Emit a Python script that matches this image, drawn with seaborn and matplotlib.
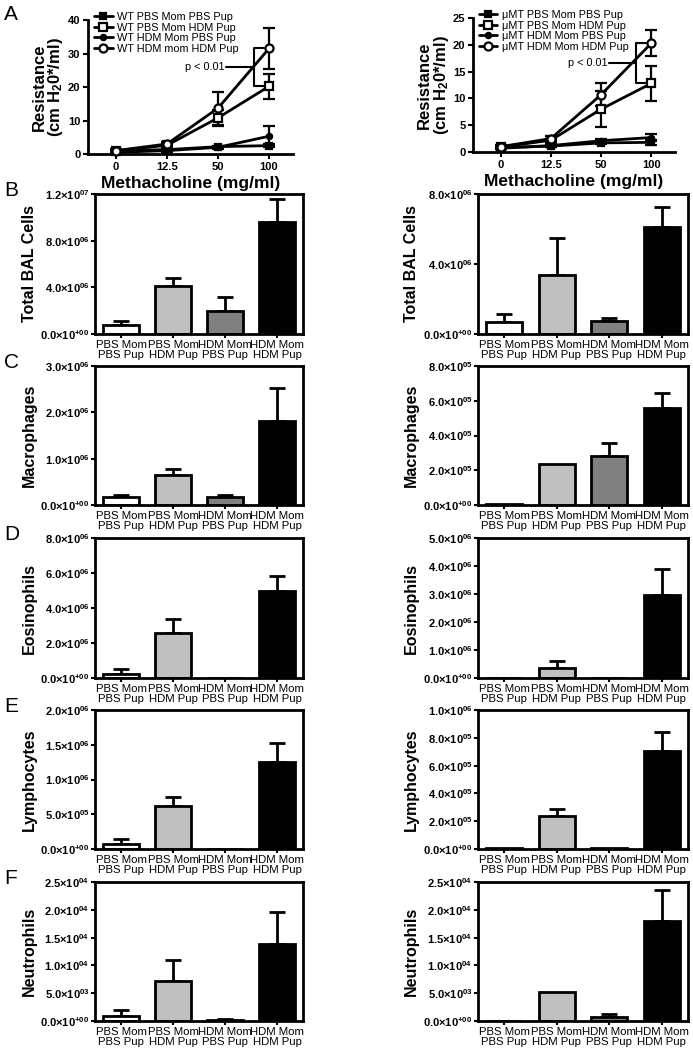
import numpy as np
import matplotlib
matplotlib.use("Agg")
import matplotlib.pyplot as plt
import seaborn as sns

# ── Style ──────────────────────────────────────────────────
sns.set_style("ticks", {"axes.edgecolor": "black", "xtick.color": "black",
                        "ytick.color": "black", "text.color": "black",
                        "axes.labelcolor": "black"})
plt.rcParams["font.family"] = ["Liberation Sans", "DejaVu Sans"]
plt.rcParams["mathtext.fontset"] = "custom"
plt.rcParams["mathtext.rm"] = "Liberation Sans:bold"
plt.rcParams["mathtext.it"] = "Liberation Sans:bold"
plt.rcParams["mathtext.bf"] = "Liberation Sans:bold"
plt.rcParams["mathtext.default"] = "rm"

# ── Données : résistance (méthacholine) ─────────────────────
doses = ["0", "12.5", "50", "100"]

wt_labels = ["WT PBS Mom PBS Pup", "WT PBS Mom HDM Pup",
             "WT HDM Mom PBS Pup", "WT HDM mom HDM Pup"]
wt_pbs_pbs = [1.0, 1.3, 2.2, 2.5]
wt_pbs_pbs_err = [0.3, 0.2, 0.3, 0.5]
wt_pbs_hdm = [1.0, 2.6, 10.8, 20.2]
wt_pbs_hdm_err = [0.3, 0.5, 2.3, 3.8]
wt_hdm_pbs = [0.5, 1.0, 2.0, 5.3]
wt_hdm_pbs_err = [0.2, 0.3, 0.4, 3.0]
wt_hdm_hdm = [1.0, 3.0, 13.7, 31.5]
wt_hdm_hdm_err = [0.5, 0.6, 4.9, 6.1]

mt_labels = ["\u03bcMT PBS Mom PBS Pup", "\u03bcMT PBS Mom HDM Pup",
             "\u03bcMT HDM Mom PBS Pup", "\u03bcMT HDM Mom HDM Pup"]
mt_pbs_pbs = [0.8, 1.1, 1.7, 1.8]
mt_pbs_pbs_err = [0.2, 0.2, 0.3, 0.5]
mt_pbs_hdm = [0.9, 2.2, 8.0, 12.8]
mt_pbs_hdm_err = [0.3, 0.3, 3.3, 3.3]
mt_hdm_pbs = [0.7, 1.2, 2.1, 2.7]
mt_hdm_pbs_err = [0.2, 0.2, 0.3, 0.7]
mt_hdm_hdm = [1.0, 2.5, 10.7, 20.3]
mt_hdm_hdm_err = [0.3, 0.4, 2.1, 2.4]

# ── Données : cellules BAL ──────────────────────────────────
cats = ["PBS Mom\nPBS Pup", "PBS Mom\nHDM Pup", "HDM Mom\nPBS Pup", "HDM Mom\nHDM Pup"]
bar_colors = ["white", "#c0c0c0", "#808080", "black"]

wt_bal = [7.7e5, 4.1e6, 2.0e6, 9.6e6]
wt_bal_err = [3.3e5, 6.7e5, 1.17e6, 2.0e6]
mt_bal = [6.6e5, 3.4e6, 7.2e5, 6.1e6]
mt_bal_err = [4.7e5, 2.08e6, 1.9e5, 1.15e6]

wt_mac = [1.8e5, 6.4e5, 1.7e5, 1.82e6]
wt_mac_err = [4e4, 1.4e5, 5e4, 7.1e5]
mt_mac = [8e3, 2.38e5, 2.82e5, 5.6e5]
mt_mac_err = [0, 0, 7.7e4, 8.6e4]

wt_eos = [2.5e5, 2.6e6, 0, 5.0e6]
wt_eos_err = [2.5e5, 7.5e5, 0, 8.4e5]
mt_eos = [0, 3.6e5, 0, 2.95e6]
mt_eos_err = [0, 2.4e5, 0, 9.3e5]

wt_lym = [7.2e4, 6.2e5, 0, 1.25e6]
wt_lym_err = [6.7e4, 1.35e5, 0, 2.7e5]
mt_lym = [7e3, 2.4e5, 7e3, 7.07e5]
mt_lym_err = [0, 4.5e4, 0, 1.32e5]

wt_neu = [900, 7.2e3, 200, 1.39e4]
wt_neu_err = [1.0e3, 3.8e3, 100, 5.7e3]
mt_neu = [0, 5.24e3, 714, 1.8e4]
mt_neu_err = [0, 0, 480, 5.5e3]

# ── Figure ─────────────────────────────────────────────────
W, H = 693, 1050
fig = plt.figure(figsize=(W / 100, H / 100), dpi=100)


def rect(l, t, r, b):
    return [l / W, 1 - b / H, (r - l) / W, (b - t) / H]


def sci(v, pos=None):
    if v == 0:
        return "0.0\u00d710$^{+00}$"
    e = int(np.floor(np.log10(v) + 1e-9))
    return f"{v / 10 ** e:.1f}\u00d710$^{{{e:02d}}}$"


def line_panel(ax, labels, series, errs, ymax, ystep):
    x = np.arange(len(doses))
    styles = [("s", "black", 4.5), ("s", "white", 5.5),
              ("o", "black", 3.8), ("o", "white", 5.8)]
    for lab, y, (mk, fc, ms) in zip(labels, series, styles):
        sns.lineplot(x=x, y=y, ax=ax, color="black", linewidth=2, marker=mk,
                     markersize=ms, markerfacecolor=fc, markeredgecolor="black",
                     markeredgewidth=1.6, label=lab, clip_on=False, zorder=3)
    for y, e in zip(series, errs):
        ax.errorbar(x, y, yerr=e, fmt="none", ecolor="black", elinewidth=1.6,
                    capsize=4.5, capthick=1.6, clip_on=False, zorder=2)
    ax.set_ylim(0, ymax)
    ax.set_yticks(np.arange(0, ymax + 0.1, ystep))
    ax.set_xlim(-0.55, 3.47)
    ax.set_xticks(x)
    ax.set_xticklabels(doses)
    sns.despine(ax=ax)
    for s in ["left", "bottom"]:
        ax.spines[s].set_linewidth(2)
    ax.tick_params(width=1.5, length=3.5, labelsize=8, pad=2)
    for t in ax.get_xticklabels() + ax.get_yticklabels():
        t.set_fontweight("bold")
    ax.set_ylabel("Resistance\n(cm H$_2$0*/ml)", fontsize=12, fontweight="bold",
                  linespacing=1.0)
    ax.yaxis.set_label_coords(-0.11, 0.5)
    ax.set_xlabel("Methacholine (mg/ml)", fontsize=12.5, fontweight="bold", labelpad=3)
    ax.legend(loc="upper left", bbox_to_anchor=(0.03, 1.06), frameon=False,
              fontsize=7.8, handlelength=1.7, handletextpad=0.45,
              labelspacing=0.05, borderaxespad=0, borderpad=0)
    # crochet de significativité
    top, bot = series[3][3], series[1][3]
    xb = 3 - 0.3
    ax.plot([xb + 0.2, xb, xb, xb + 0.2], [top, top, bot, bot],
            color="black", lw=1.5, zorder=1)
    ymid = (top + bot) / 2
    ax.plot([xb - 0.55, xb], [ymid, ymid], color="black", lw=1.5)
    ax.text(xb - 0.57, ymid, "p < 0.01", fontsize=7.8, ha="right", va="center")


def bar_panel(ax, vals, errs, ymax, ystep, ylabel):
    sns.barplot(x=cats, y=vals, hue=cats, palette=bar_colors, legend=False,
                edgecolor="black", linewidth=2, width=0.68, saturation=1, ax=ax,
                zorder=2)
    x = np.arange(len(cats))
    vals_a, errs_a = np.array(vals), np.array(errs)
    m = errs_a > 0
    ax.errorbar(x[m], vals_a[m], yerr=[np.zeros(m.sum()), errs_a[m]], fmt="none",
                ecolor="black", elinewidth=2, capsize=6, capthick=2, zorder=1)
    ax.set_ylim(0, ymax)
    ax.set_xlim(-0.5, 3.5)
    ax.set_yticks(np.arange(0, ymax * 1.0001, ystep))
    ax.yaxis.set_major_formatter(plt.FuncFormatter(sci))
    for s in ax.spines.values():
        s.set_linewidth(2)
    ax.tick_params(axis="y", width=1.5, length=3, labelsize=8, pad=1)
    ax.tick_params(axis="x", width=1.5, length=3, labelsize=8.2, pad=1)
    for t in ax.get_yticklabels():
        t.set_fontweight("bold")
    for t in ax.get_xticklabels():
        t.set_linespacing(1.0)
    ax.set_xlabel("")
    ax.set_ylabel(ylabel, fontsize=11.5, fontweight="bold")
    ax.yaxis.set_label_coords(-0.28, 0.5)


# ── Panneau A ──────────────────────────────────────────────
axA1 = fig.add_axes(rect(88, 20, 293, 154))
line_panel(axA1, wt_labels, [wt_pbs_pbs, wt_pbs_hdm, wt_hdm_pbs, wt_hdm_hdm],
           [wt_pbs_pbs_err, wt_pbs_hdm_err, wt_hdm_pbs_err, wt_hdm_hdm_err], 40, 10)
axA2 = fig.add_axes(rect(473, 18, 675, 152))
line_panel(axA2, mt_labels, [mt_pbs_pbs, mt_pbs_hdm, mt_hdm_pbs, mt_hdm_hdm],
           [mt_pbs_pbs_err, mt_pbs_hdm_err, mt_hdm_pbs_err, mt_hdm_hdm_err], 25, 5)

# ── Panneaux B-F ───────────────────────────────────────────
rows = [
    ("B", 194, 334, "Total BAL Cells", (wt_bal, wt_bal_err, 1.2e7, 4e6), (mt_bal, mt_bal_err, 8e6, 4e6)),
    ("C", 366, 505, "Macrophages", (wt_mac, wt_mac_err, 3e6, 1e6), (mt_mac, mt_mac_err, 8e5, 2e5)),
    ("D", 538, 678, "Eosinophils", (wt_eos, wt_eos_err, 8e6, 2e6), (mt_eos, mt_eos_err, 5e6, 1e6)),
    ("E", 710, 849, "Lymphocytes", (wt_lym, wt_lym_err, 2e6, 5e5), (mt_lym, mt_lym_err, 1e6, 2e5)),
    ("F", 882, 1021, "Neutrophils", (wt_neu, wt_neu_err, 2.5e4, 5e3), (mt_neu, mt_neu_err, 2.5e4, 5e3)),
]
for letter, top, bot, lab, left, right in rows:
    axl = fig.add_axes(rect(95, top, 303, bot))
    bar_panel(axl, *left, lab)
    axr = fig.add_axes(rect(478, top, 688, bot))
    bar_panel(axr, *right, lab)
    fig.text(4 / W, 1 - (top - 4) / H, letter, fontsize=15, va="center", ha="left")

fig.text(4 / W, 1 - 14 / H, "A", fontsize=15, va="center", ha="left")

fig.savefig("out.png", dpi=100)
